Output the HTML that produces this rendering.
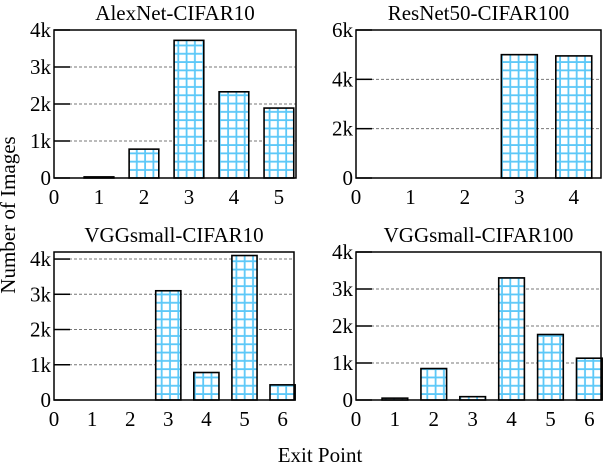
<!DOCTYPE html>
<html><head><meta charset="utf-8"><style>
body{margin:0;background:#fff;}
svg text{font-family:"Liberation Serif",serif;fill:#000;}
</style></head><body>
<svg id="c" width="604" height="466" xmlns="http://www.w3.org/2000/svg">
<defs>
<pattern id="grid" width="8.3" height="8.3" patternUnits="userSpaceOnUse">
<rect width="8.3" height="8.3" fill="#fff"/>
<path d="M4 0V8.3M0 4H8.3" stroke="#5cc8f8" stroke-width="1.8"/>
</pattern>
</defs>
<text x="15" y="215" font-size="21" text-anchor="middle" transform="rotate(-90 15 215)">Number of Images</text>
<text x="320" y="462" font-size="21" text-anchor="middle">Exit Point</text>
</svg>
<script>
const titles = ["AlexNet-CIFAR10","ResNet50-CIFAR100","VGGsmall-CIFAR10","VGGsmall-CIFAR100"];
const cats1 = [1,2,3,4,5];
const vals1 = [30,780,3720,2330,1890];
const cats2 = [1,2,3,4];
const vals2 = [0,0,5000,4950];
const cats3 = [1,2,3,4,5,6];
const vals3 = [0,0,3100,780,4100,430];
const cats4 = [1,2,3,4,5,6];
const vals4 = [50,850,90,3300,1770,1130];
const yticks1 = [0,1000,2000,3000,4000];
const yticks2 = [0,2000,4000,6000];
const yticks3 = [0,1000,2000,3000,4000];
const yticks4 = [0,1000,2000,3000,4000];
const ylabels1 = ["0","1k","2k","3k","4k"];
const ylabels2 = ["0","2k","4k","6k"];
const ylabels3 = ["0","1k","2k","3k","4k"];
const ylabels4 = ["0","1k","2k","3k","4k"];

const NS="http://www.w3.org/2000/svg";
const svg=document.getElementById('c');
function mk(t,a,p){const e=document.createElementNS(NS,t);for(const k in a)e.setAttribute(k,a[k]);(p||svg).appendChild(e);return e;}
const panels=[
 {L:54,R:296,T:30,B:178,xmax:5.38,ymax:4000,cats:cats1,vals:vals1,yt:yticks1,yl:ylabels1,xt:[0,1,2,3,4,5]},
 {L:356,R:601,T:30,B:178,xmax:4.5,ymax:6000,cats:cats2,vals:vals2,yt:yticks2,yl:ylabels2,xt:[0,1,2,3,4]},
 {L:54,R:294,T:252,B:400,xmax:6.3,ymax:4200,cats:cats3,vals:vals3,yt:yticks3,yl:ylabels3,xt:[0,1,2,3,4,5,6]},
 {L:356,R:601,T:252,B:400,xmax:6.3,ymax:4000,cats:cats4,vals:vals4,yt:yticks4,yl:ylabels4,xt:[0,1,2,3,4,5,6]}
];
panels.forEach((p,i)=>{
 const g=mk('g',{});
 
 
 const xs=v=>p.L+v/p.xmax*(p.R-p.L);
 const ys=v=>p.B-v/p.ymax*(p.B-p.T);
 const t=mk('text',{x:(p.L+p.R)/2,y:p.T-10,'font-size':21,'text-anchor':'middle'},g);
 t.textContent=titles[i];
 
 
 p.yt.forEach((v,j)=>{
  const y=ys(v);
  if(v>0&&v<p.ymax){const gl=mk('line',{x1:p.L,x2:p.R,y1:y,y2:y,stroke:'#777','stroke-dasharray':'3,2','stroke-width':1},g);
   
   }
  mk('line',{x1:p.L,x2:p.L+16,y1:y,y2:y,stroke:'#000','stroke-width':1.5},g);
  const tl=mk('text',{x:p.L-3,y:y+7,'font-size':21,'text-anchor':'end'},g);
  tl.textContent=p.yl[j];
  
  
 });
 p.xt.forEach(v=>{
  const tl=mk('text',{x:xs(v),y:p.B+26,'font-size':21,'text-anchor':'middle'},g);
  tl.textContent=v;
  
  
 });
 p.cats.forEach((c,j)=>{
  const w=0.66*(p.R-p.L)/p.xmax;
  const y=ys(p.vals[j]);
  const b=mk('rect',{x:xs(c)-w/2,y:y,width:w,height:Math.max(p.B-y,0),fill:'url(#grid)',stroke:'#000','stroke-width':1.6},g);
  
  
 });
 const fr=mk('rect',{x:p.L,y:p.T,width:p.R-p.L,height:p.B-p.T,fill:'none',stroke:'#000','stroke-width':1.5},g);
 
 
});
</script>
</body></html>
